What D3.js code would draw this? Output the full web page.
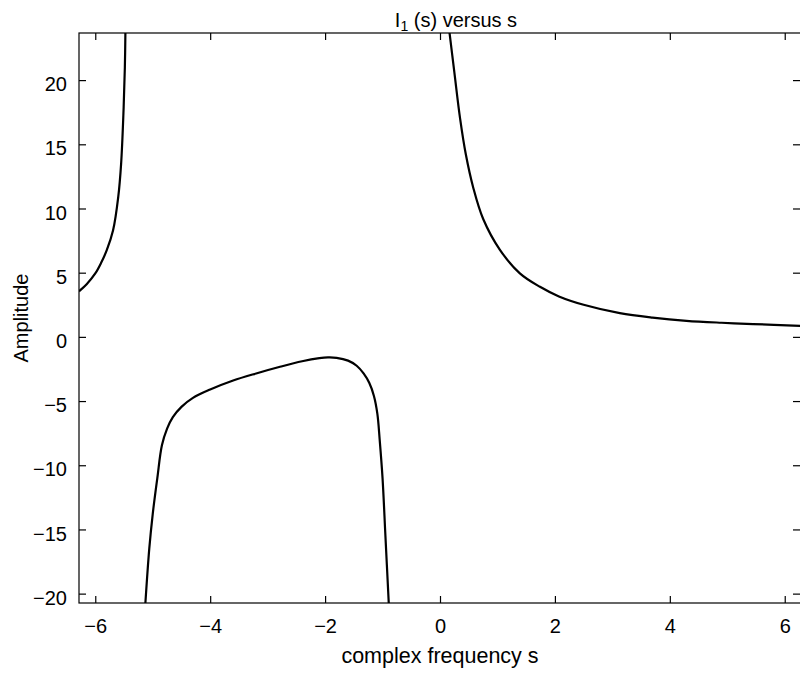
<!DOCTYPE html>
<html>
<head>
<meta charset="utf-8">
<script src="https://cdn.jsdelivr.net/npm/d3@7"></script>
<style>
  html, body { margin: 0; padding: 0; background: #fff; }
  svg { display: block; font-family: "Liberation Sans", Arial, Helvetica, sans-serif; }
</style>
</head>
<body>
<svg id="chart" width="800" height="675"></svg>
<script>
// ---- data ----
const xTicks = [-6, -4, -2, 0, 2, 4, 6];
const yTicks = [-20, -15, -10, -5, 0, 5, 10, 15, 20];

const leftX = [-6.283, -6.15, -6.00, -5.90, -5.80, -5.69, -5.60, -5.55, -5.51, -5.485, -5.475];
const leftY = [3.55, 4.1, 4.94, 5.75, 6.75, 8.3, 10.9, 13.5, 17.4, 21.0, 23.9];

const midX = [-5.13, -5.06, -5.00, -4.92, -4.84, -4.75, -4.65, -4.50, -4.30, -4.00, -3.60, -3.20, -2.80, -2.40, -2.10, -1.95, -1.80, -1.60, -1.45, -1.33, -1.23, -1.15, -1.09, -1.05, -1.00, -0.95, -0.89];
const midY = [-20.9, -16.5, -13.8, -11.0, -8.45, -7.15, -6.25, -5.45, -4.75, -4.1, -3.4, -2.85, -2.35, -1.9, -1.66, -1.6, -1.63, -1.85, -2.25, -2.85, -3.6, -4.6, -6.0, -8.0, -11.0, -15.5, -20.9];

const rightX = [0.16, 0.25, 0.35, 0.45, 0.58, 0.75, 1.04, 1.39, 1.74, 2.07, 2.50, 3.13, 3.70, 4.29, 4.90, 5.45, 6.283];
const rightY = [23.9, 20.6, 17.0, 14.2, 11.6, 9.2, 6.8, 4.95, 3.9, 3.15, 2.5, 1.85, 1.5, 1.25, 1.1, 1.0, 0.85];

const titleMain = "I";
const titleSub = "1";
const titleRest = " (s) versus s";
const xLabel = "complex frequency s";
const yLabel = "Amplitude";

// ---- layout ----
const svg = d3.select("#chart");
const L = 79, R = 801, T = 33, B = 603;
const FS = 20;

const x = d3.scaleLinear().domain([-2 * Math.PI, 2 * Math.PI]).range([L, R]);
const y = d3.scaleLinear().domain([-20.73, 23.67]).range([B, T]);

// clip
svg.append("defs").append("clipPath").attr("id", "clip")
  .append("rect").attr("x", L).attr("y", T).attr("width", R - L).attr("height", B - T);

// axes
const tickLen = 7;
const fmt = d => d3.format("")(d).replace("-", "\u2212");
const gB = svg.append("g").attr("transform", `translate(0,${B})`)
  .call(d3.axisBottom(x).tickValues(xTicks).tickSizeInner(-tickLen).tickSizeOuter(0).tickPadding(16).tickFormat(fmt));
const gT = svg.append("g").attr("transform", `translate(0,${T})`)
  .call(d3.axisTop(x).tickValues(xTicks).tickSizeInner(-tickLen).tickSizeOuter(0).tickFormat(""));
const gL = svg.append("g").attr("transform", `translate(${L},0)`)
  .call(d3.axisLeft(y).tickValues(yTicks).tickSizeInner(-tickLen).tickSizeOuter(0).tickPadding(12).tickFormat(fmt));
const gR = svg.append("g").attr("transform", `translate(${R - 1},0)`)
  .call(d3.axisRight(y).tickValues(yTicks).tickSizeInner(-tickLen).tickSizeOuter(0).tickFormat(""));

[gB, gT, gL, gR].forEach(g => {
  g.select(".domain").remove();
  g.selectAll(".tick line").attr("stroke", "#000").attr("stroke-width", 1.2);
  g.selectAll("text").attr("font-size", FS).attr("fill", "#000")
    .attr("font-family", "'Liberation Sans', Arial, Helvetica, sans-serif");
});
gL.selectAll("text").attr("dy", "0.53em");

// frame
svg.append("rect").attr("x", L).attr("y", T).attr("width", R - L).attr("height", B - T)
  .attr("fill", "none").attr("stroke", "#000").attr("stroke-width", 1.2);

// curves
const line = d3.line().x(d => x(d[0])).y(d => y(d[1])).curve(d3.curveCatmullRom.alpha(0.5));
const branches = [
  d3.zip(leftX, leftY),
  d3.zip(midX, midY),
  d3.zip(rightX, rightY)
];
svg.append("g").attr("clip-path", "url(#clip)")
  .selectAll("path").data(branches).join("path")
  .attr("d", line).attr("fill", "none").attr("stroke", "#000").attr("stroke-width", 2.2)
  .attr("stroke-linejoin", "round");

// title
const title = svg.append("text").attr("x", 456).attr("y", 27)
  .attr("text-anchor", "middle").attr("font-size", FS).attr("fill", "#000");
title.append("tspan").text(titleMain);
title.append("tspan").attr("font-size", FS * 0.7).attr("dy", 4).text(titleSub);
title.append("tspan").attr("dy", -4).text(titleRest);

// axis labels
svg.append("text").attr("x", 440).attr("y", 663).attr("text-anchor", "middle")
  .attr("font-size", 21.5).attr("fill", "#000").text(xLabel);
svg.append("text").attr("transform", `translate(28,${(T + B) / 2}) rotate(-90)`)
  .attr("text-anchor", "middle").attr("font-size", FS).attr("fill", "#000").text(yLabel);
</script>
</body>
</html>
